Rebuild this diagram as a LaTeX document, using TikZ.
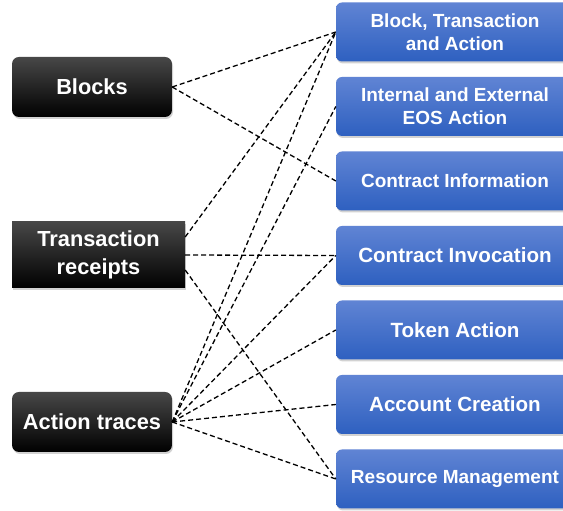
\documentclass[tikz,border=0pt]{standalone}
\usepackage{fontspec}
\setmainfont{Liberation Sans}
\usepackage{tikz}
\usetikzlibrary{positioning, shadows}

\definecolor{boxtop}{RGB}{96,132,212}
\definecolor{boxbot}{RGB}{46,96,192}

\tikzset{
  source/.style={draw=none, top color=black!72, middle color=black, bottom color=black,
    text=white, font=\fontsize{21.8}{28}\selectfont\bfseries, align=center,
    minimum width=160pt, minimum height=60pt, inner sep=2pt, rounded corners=7pt,
    drop shadow={shadow xshift=1pt, shadow yshift=-2pt, opacity=0.35}},
  category/.style={draw=none, top color=boxtop, bottom color=boxbot,
    text=white, font=\fontsize{19}{23}\selectfont\bfseries, align=center,
    minimum width=238pt, minimum height=59pt, inner sep=2pt, rounded corners=6pt,
    drop shadow={shadow xshift=1pt, shadow yshift=-2pt, opacity=0.35}},
  bigtext/.style={font=\fontsize{20.6}{24}\selectfont\bfseries},
  link/.style={draw, black, line width=1.3pt, dash pattern=on 5pt off 3pt}
}

\begin{document}
\begin{tikzpicture}[x=1pt,y=1pt,node distance=74.5pt,on grid]
        \clip (0,0) rectangle (563,511);
        \fill[white] (0,0) rectangle (563,511);
        % data sources
        \node[source] (blocks) at (92,424) {Blocks};
        \node[source,rounded corners=0pt,minimum width=173pt,minimum height=66pt] (receipts) at (98.5,256) {Transaction\\receipts};
        \node[source] (traces) at (92,89) {Action traces};
        % extracted categories
        \node[category] (bta) at (455,479) {Block, Transaction\\and Action};
        \node[category] (eos) [below=of bta] {Internal and External\\EOS Action};
        \node[category] (cinfo) [below=of eos] {Contract Information};
        \node[category,bigtext] (cinv) [below=of cinfo] {Contract Invocation};
        \node[category,bigtext] (token) [below=of cinv] {Token Action};
        \node[category,bigtext] (account) [below=of token] {Account Creation};
        \node[category] (resource) [below=of account] {Resource Management};
        \path[link]
        (blocks.east) edge (bta.west)
                      edge (cinfo.west)
        ([yshift=18pt]receipts.east) edge (bta.west)
        (receipts.east) edge (cinv.west)
        ([yshift=-15pt]receipts.east) edge (resource.west)
        (traces.east) edge (bta.west)
                      edge (eos.west)
                      edge (cinv.west)
                      edge (token.west)
                      edge (account.west)
                      edge (resource.west);
      \end{tikzpicture}
\end{document}
